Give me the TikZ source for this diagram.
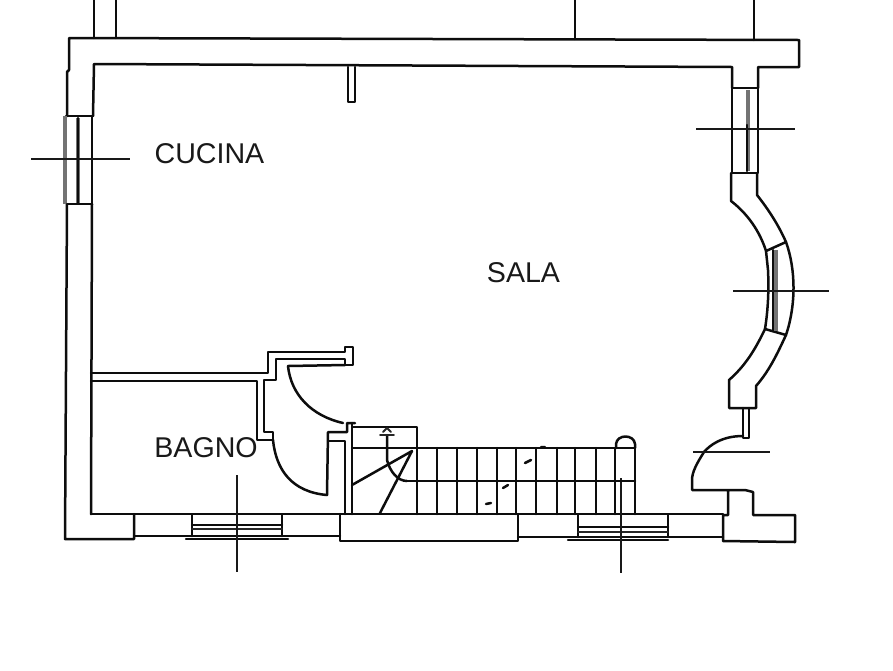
\documentclass[tikz,border=0pt]{standalone}
\usepackage{fontspec}
\setmainfont{Liberation Sans}
\tikzset{
 wall/.style={draw=black!95,line width=2.5pt,line join=round,line cap=round},
 thin wall/.style={draw=black!85,line width=1.8pt,line join=round,line cap=round},
 glass/.style={draw=black!55,line width=3.2pt},
 axisline/.style={draw=black!90,line width=2pt},
 roomlabel/.style={font=\fontsize{28.6}{30}\selectfont,text=black!90,inner sep=0pt,anchor=center}
}
\begin{document}
\begin{tikzpicture}[x=1pt,y=-1pt]
\useasboundingbox[fill=white] (0,0) rectangle (893,670);
% upper stubs
\draw[wall] (94,0)--(94,38) (116,0)--(116,38) (575,0)--(575,39) (754,0)--(754,40);
% outer + top wall
\draw[wall] (67,116)--(67,72)--(69,70)--(69,38)--(799,40)--(799,67)--(758,67)--(758,88);
\draw[wall] (93,116)--(94,64)--(732,67)--(732,88);
% left window
\draw[wall] (66,116)--(93,116) (67,204)--(92,204);
\draw[glass] (65,116)--(65,204);
\draw[wall] (92,116)--(92,204);
\draw[glass] (78,118)--(78,203);
\draw[wall] (78,118)--(78,203);
\draw[axisline] (31,159)--(130,159);
% left wall
\draw[wall] (67,204)--(65,539)--(134,539)--(134,514);
\draw[wall] (92,204)--(91,514);
% right upper window
\draw[wall] (732,88)--(758,88)--(758,173)--(732,173)--cycle;
\draw[glass] (748,90)--(748,171);
\draw[wall] (747,125)--(747,171);
\draw[axisline] (696,129)--(795,129);
% curved wall upper
\draw[wall] (731,173)--(731,201) .. controls (748,214) and (760,232) .. (766,251)--(786,242)
  .. controls (778,224) and (768,209) .. (757,195)--(757,173);
% bay window
\draw[wall] (766,251)--(768,270) .. controls (769,290) and (768,310) .. (765,329);
\draw[wall] (786,242) .. controls (796,270) and (796,305) .. (786,335);
\draw[wall] (765,329)--(786,335);
\draw[glass] (776,250)--(776,331);
\draw[wall] (773,250)--(773,331);
\draw[axisline] (733,291)--(829,291);
% curved wall lower
\draw[wall] (765,329) .. controls (755,350) and (745,366) .. (729,380)--(729,408)--(756,408)--(756,386)
  .. controls (770,370) and (778,352) .. (786,335);
% door jamb and arc
\draw[wall] (743,408)--(743,438)--(749,438)--(749,408);
\draw[wall] (743,436) .. controls (722,436) and (710,445) .. (704,452) .. controls (697,463) and (692,472) .. (692,480)--(692,490)--(728,490)--(745,490)--(753,492)--(753,515)--(795,515)--(795,542)--(723,541)--(723,515)--(728,515)--(728,490);
\draw[axisline] (693,452)--(770,452);
% bottom wall
\draw[wall] (91,514)--(723,514);
\draw[wall] (134,536)--(340,536);
\draw[wall] (192,515)--(192,536) (282,515)--(282,536);
\draw[wall] (192,525)--(282,525);
\draw[thin wall] (192,529)--(282,529);
\draw[wall,dash pattern=on 6pt off 1pt] (186,539)--(288,539);
\draw[axisline] (237,475)--(237,572);
\draw[wall] (340,514)--(340,541)--(518,541)--(518,514);
\draw[wall] (518,537)--(723,537);
\draw[wall] (578,515)--(578,537) (668,515)--(668,537);
\draw[wall] (578,527)--(668,527);
\draw[thin wall] (578,532)--(668,532);
\draw[wall,dash pattern=on 6pt off 1pt] (568,540)--(668,540);
\draw[axisline] (621,478)--(621,573);
% bathroom walls and doors
\draw[wall] (91,373)--(268,373)--(268,352)--(345,352)--(345,347)--(353,347)--(353,365)--(345,365)--(345,359)--(276,359)--(276,380)--(264,380)--(264,432)--(273,432)--(273,440);
\draw[wall] (91,381)--(257,381)--(257,440)--(273,440);
\draw[wall] (288,366)--(345,365);
\draw[wall] (288,366) .. controls (291,395) and (312,416) .. (343,423);
\draw[wall] (273,440) .. controls (276,470) and (292,492) .. (327,495)--(328,432)--(347,432)--(347,423)--(355,423);
\draw[wall] (328,441)--(345,441)--(345,514);
\draw[wall] (352,423)--(352,514);
% stairs
\draw[wall] (352,427)--(417,427)--(417,514);
\draw[wall] (352,448)--(635,448)--(635,514);
\foreach \tx in {437,457,477,497,516,536,557,575,596,615}{\draw[wall] (\tx,448)--(\tx,514);}
\draw[wall] (407,481)--(635,481);
\draw[wall] (387,435)--(387,460) .. controls (390,472) and (398,481) .. (407,481);
\draw[thin wall] (380,435)--(394,435);
\draw[thin wall] (383,432)--(387,428)--(391,432);
\draw[wall] (352,485)--(412,451)--(380,513);
\draw[wall] (616,448)--(616,444) .. controls (617,434) and (634,434) .. (635,444)--(635,448);
\draw[wall] (525,463)--(531,460) (503,488)--(508,485) (486,504)--(491,503) (541,447)--(545,447);
% wall stub
\draw[wall] (348,67)--(348,102)--(355,102)--(355,67);
% labels
\node[roomlabel] (cucina) at (209.5,154) {CUCINA};
\node[roomlabel] (sala) at (523.5,273) {SALA};
\node[roomlabel] (bagno) at (206,448) {BAGNO};
\end{tikzpicture}
\end{document}
